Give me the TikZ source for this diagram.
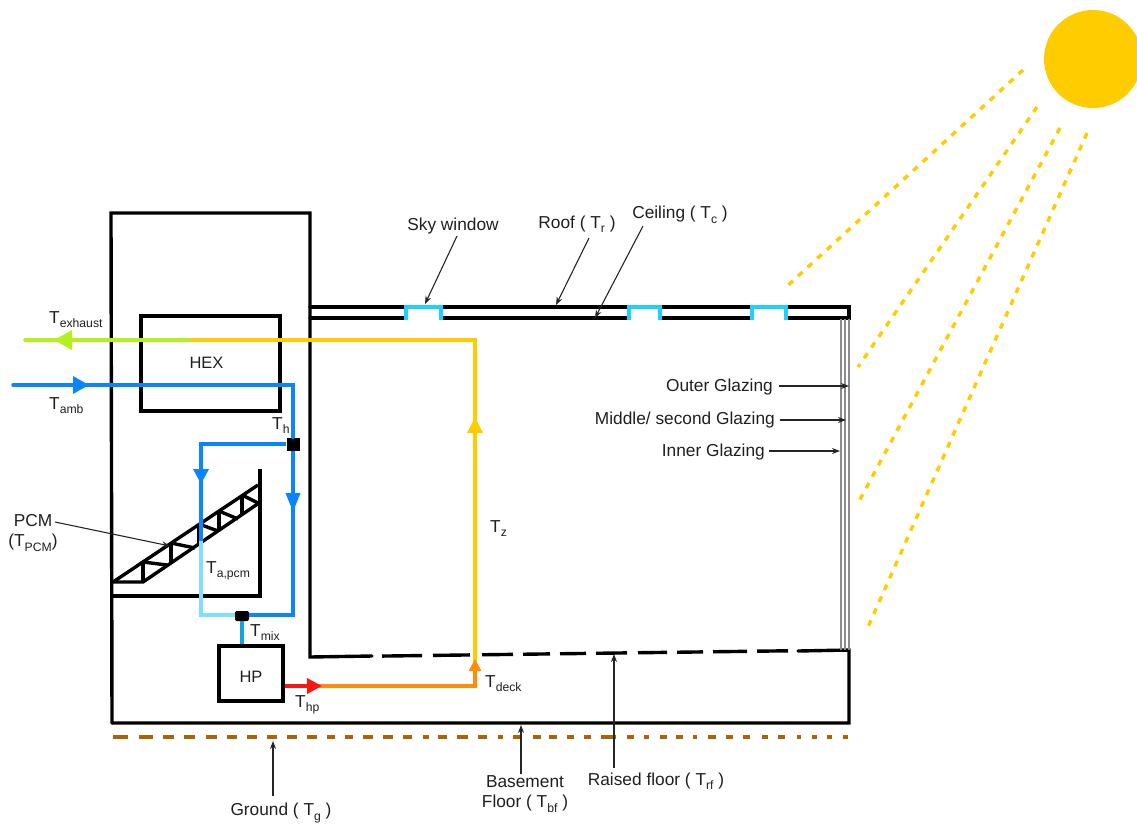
\documentclass[tikz,border=0pt]{standalone}
\usepackage{fontspec}
\setmainfont{Liberation Sans}
\usepackage{xcolor}
\usetikzlibrary{arrows.meta, positioning, shapes.geometric, calc}
\definecolor{pipeblue}{HTML}{0A84FF}
\definecolor{pipelight}{HTML}{7FDFFF}
\definecolor{pipemix}{HTML}{12A5DC}
\definecolor{pipegreen}{HTML}{B4F01E}
\definecolor{pipeyellow}{HTML}{FFCC00}
\definecolor{pipered}{HTML}{FF1414}
\definecolor{pipeorange}{HTML}{FF8C0A}
\definecolor{skycyan}{HTML}{1FD0FF}
\definecolor{groundbrown}{HTML}{A86408}
\newcommand{\Tsub}[1]{T\raisebox{-4.5pt}{\fontsize{12.2}{12.2}\selectfont #1}}
\tikzset{
  wall/.style={line width=3.4pt, black, line cap=round, line join=miter},
  truss/.style={line width=3.4pt, black, line join=miter},
  pipe/.style={line width=3.5pt, draw=#1, line join=miter},
  tip/.style={-{Triangle[length=16pt,width=15pt]}},
  arr/.style={-{Stealth[length=8pt]}, line width=1.1pt, black!85},
  lbl/.style={font=\fontsize{17.3}{20}\selectfont, text=black!88, inner sep=0pt, align=center},
  ray/.style={line width=3.4pt, pipeyellow, dash pattern=on 6pt off 7pt},
  glazing/.style={line width=1.3pt, black!45},
  window/.style={line width=3.7pt, skycyan, line join=miter},
  junction/.style={fill=black, inner sep=0pt, rounded corners=#1},
  junction/.default=0pt,
  equip/.style={rectangle, draw=black, line width=3.4pt, inner sep=0pt},
}
\begin{document}
\begin{tikzpicture}[x=1pt, y=-1pt]
  \useasboundingbox (0,0) rectangle (1137,823);
  %% Sun and rays
  \node[circle, fill=pipeyellow, minimum size=98pt, inner sep=0pt] (sun) at (1093,59) {};
  \foreach \a/\b/\c/\d in {1023/70/784/289, 1037/107/858/367, 1060/128/857/505, 1087/133/868/627}
    \draw[ray] (\a,\b) -- (\c,\d);
  %% Building shell
  \coordinate (towertl) at (111,213);
  \coordinate (towertr) at (310,213);
  \coordinate (towerbl) at (112,723);
  \coordinate (floorbr) at (849,723);
  \coordinate (floorl)  at (310,657);
  \coordinate (floorr)  at (849,650);
  \coordinate (roofl)   at (310,307);
  \coordinate (roofr)   at (849,307);
  \coordinate (ceill)   at (310,318);
  \coordinate (ceilr)   at (849,318);
  \draw[wall] (towerbl) -- (towertl) -- (towertr) -- (floorl) -- (372,656);
  \draw[wall] (towerbl) -- (floorbr) -- (floorr) -- (798,651);
  \foreach \a/\b in {382/422,433/470,482/513,523/550,560/586,596/627,638/667,677/703,713/747,757/788}
    \draw[wall, line cap=butt] (\a,{657-(\a-310)*0.013}) -- (\b,{657-(\b-310)*0.013});
  \draw[wall] (roofl) -- (roofr) -- (ceilr) -- (ceill);
  %% Glazing
  \foreach \x in {841,845,849}
    \draw[glazing] (\x,319) -- (\x,650);
  %% Sky windows
  \foreach \a/\b in {406/441,629/660,752/786}{
    \draw[line width=5pt, white] (\a,318) -- (\b,318);
    \draw[window] (\a,319.5) -- (\a,307) -- (\b,307) -- (\b,319.5);
  }
  %% Ground
  \foreach \a/\b in {113/128,139/153,163/174,184/195,206/217,227/237,247/257,267/277,287/297,307/317,
      327/335,345/353,363/373,383/393,403/412,423/429,438/447,457/468,478/487,498/503,513/522,
      533/541,549/557,567/574,584/591,601/616,627/634,644/649,660/667,676/683,693/697,708/716,
      726/733,743/750,762/768,778/785,797/801,812/817,827/832,843/848}
    \draw[line width=4.4pt, groundbrown] (\a,737) -- (\b,737);
  %% PCM truss
  \draw[truss] (260,469) -- (260,596) -- (112,596);
  \draw[truss] (113,582) -- (258,485);
  \draw[truss] (113,582) -- (143,582) -- (259,503);
  \foreach \x/\y/\u/\v/\s/\t in {143/562/143/582/167/565, 171/543/171/563/195/548,
      199/524/199/544/218/531, 219/511/219/530/238/519, 242/495/242/515/258/503}{
    \draw[truss] (\x,\y) -- (\u,\v);
    \draw[truss] (\x,\y) -- (\s,\t);
  }
  %% Equipment
  \node[equip, minimum width=139pt, minimum height=95pt] (hex) at (210.5,363.5) {};
  \node[lbl, font=\fontsize{16.5}{20}\selectfont] (hexlbl) at (206.5,363) {HEX};
  \node[equip, minimum width=64pt, minimum height=55pt] (hp) at (251,673.5) {};
  \node[lbl, font=\fontsize{16.5}{20}\selectfont] (hplbl) at (251,677) {HP};
  \node[junction, minimum size=13pt] (th) at (293,444) {};
  \node[junction=2pt, minimum width=14pt, minimum height=10pt] (tmix) at (242,616) {};
  %% Exhaust air loop
  \coordinate (exout)   at (25,340);
  \coordinate (extip)   at (54,340);
  \coordinate (exsplit) at (190,340);
  \coordinate (zcorner) at (475,340);
  \coordinate (ztip)    at (475,417);
  \coordinate (decktip) at (475,659);
  \coordinate (deckin)  at (475,686);
  \coordinate (hpbase)  at (307,686);
  \coordinate (hptip)   at (322,686);
  \draw[pipe=pipeyellow] (deckin) -- (zcorner) -- (exsplit);
  \draw[pipe=pipeyellow, tip] (deckin) -- (ztip);
  \draw[pipe=pipegreen, line cap=round] (exsplit) -- (exout);
  \draw[pipe=pipegreen, -{Triangle[length=18pt,width=19pt]}] (exsplit) -- (extip);
  \draw[pipe=pipeorange, -{Triangle[length=12pt,width=12pt]}] (hpbase) -- (deckin) -- (decktip);
  \draw[pipe=pipered, -{Triangle[length=15pt,width=15pt]}] (hp.east |- hptip) -- (hptip);
  %% Supply air loop
  \coordinate (ambin)   at (13,385);
  \coordinate (ambtip)  at (89,385);
  \coordinate (ambturn) at (293,385);
  \coordinate (rtip)    at (293,512);
  \coordinate (rturn)   at (293,615);
  \coordinate (lturn)   at (201,444);
  \coordinate (ltip)    at (201,484);
  \coordinate (lsplit)  at (201,541);
  \coordinate (lcorner) at (201,615);
  \draw[pipe=pipelight] (lsplit) -- (lcorner) -- (tmix.west |- lcorner);
  \draw[pipe=pipeblue, line cap=round] (ambin) -- (ambturn) -- (th.north);
  \draw[pipe=pipeblue, -{Triangle[length=16pt,width=17pt]}] (ambin) -- (ambtip);
  \draw[pipe=pipeblue] (th.south) -- (rturn) -- (tmix.east |- rturn);
  \draw[pipe=pipeblue, -{Triangle[length=19pt,width=14pt]}] (th.south) -- (rtip);
  \draw[pipe=pipeblue] (th.west) -- (lturn) -- (lsplit);
  \draw[pipe=pipeblue, -{Triangle[length=15pt,width=15pt]}] (th.west) -- (lturn) -- (ltip);
  \draw[pipe=pipemix] (tmix.south) -- (tmix.south |- hp.north);
  %% Temperature labels
  \node[lbl, anchor=base west] (lexhaust) at (49,323) {\Tsub{exhaust}};
  \node[lbl, anchor=base west] (lamb)     at (49,409) {\Tsub{amb}};
  \node[lbl, anchor=base west] (lth)      at (272,429) {\Tsub{h}};
  \node[lbl, anchor=base west] (ltapcm)   at (206,573) {\Tsub{a,pcm}};
  \node[lbl, anchor=base west] (ltmix)    at (250,636) {\Tsub{mix}};
  \node[lbl, anchor=base west] (lthp)     at (295,707) {\Tsub{hp}};
  \node[lbl, anchor=base west] (ltdeck)   at (485,687) {\Tsub{deck}};
  \node[lbl, anchor=base west] (ltz)      at (490,532) {\Tsub{z}};
  %% Part labels with pointers
  \node[lbl] (lpcm)  at (33,533) {PCM\\(\Tsub{PCM})};
  \coordinate (pcmpt) at (170,546);
  \draw[arr] (55,522) -- (pcmpt);
  \node[lbl] (lsky)  at (453,226) {Sky window};
  \coordinate (skypt) at (425,304);
  \draw[arr] (457,236) -- (skypt);
  \node[lbl] (lroof) at (577,224) {Roof ( \Tsub{r} )};
  \coordinate (roofpt) at (556,305);
  \draw[arr] (589,238) -- (roofpt);
  \node[lbl] (lceil) at (680,215) {Ceiling ( \Tsub{c} )};
  \coordinate (ceilpt) at (595,318);
  \draw[arr] (643,226) -- (ceilpt);
  \node[lbl, anchor=east] (louter) at (773,387) {Outer Glazing};
  \node[lbl, anchor=east] (lmid)   at (775,420) {Middle/ second Glazing};
  \node[lbl, anchor=east] (linner) at (765,452) {Inner Glazing};
  \coordinate (outerpt) at (849,386);
  \coordinate (midpt)   at (846,420);
  \coordinate (innerpt) at (840,451);
  \draw[arr] (779,386) -- (outerpt);
  \draw[arr] (780,420) -- (midpt);
  \draw[arr] (769,451) -- (innerpt);
  \node[lbl] (lground) at (281,813) {Ground ( \Tsub{g} )};
  \coordinate (groundpt) at (273,741);
  \draw[arr] (273,796) -- (groundpt);
  \node[lbl] (lbase) at (525,794) {Basement\\Floor ( \Tsub{bf} )};
  \coordinate (basept) at (521,725);
  \draw[arr] (521,774) -- (basept);
  \node[lbl] (lraised) at (656,781) {Raised floor ( \Tsub{rf} )};
  \coordinate (raisedpt) at (614,654);
  \draw[arr] (614,768) -- (raisedpt);
\end{tikzpicture}
\end{document}
